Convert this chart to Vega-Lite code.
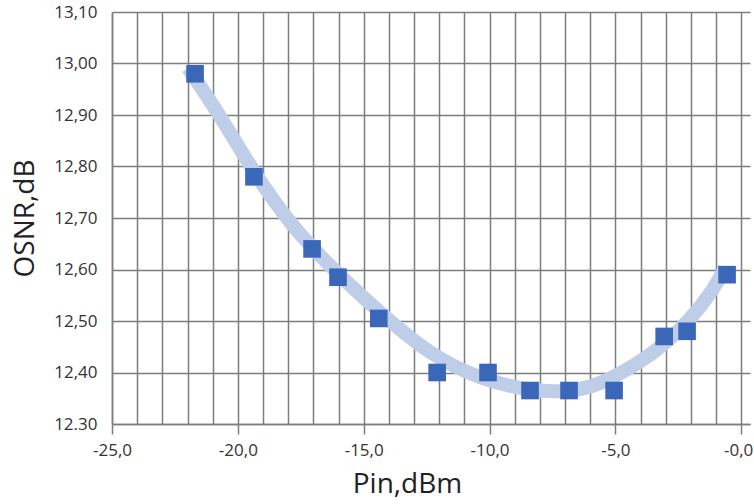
{
  "$schema": "https://vega.github.io/schema/vega-lite/v6.json",
  "width": 638,
  "height": 412,
  "autosize": "none",
  "padding": {"left": 112, "top": 12, "right": 4, "bottom": 80},
  "background": "white",
  "config": {"view": {"stroke": null}, "font": "Open Sans"},
  "datasets": {
    "curve": [
      {"pin": -21.98, "osnr": 12.991},
      {"pin": -20.71, "osnr": 12.900},
      {"pin": -19.40, "osnr": 12.790},
      {"pin": -17.93, "osnr": 12.690},
      {"pin": -17.01, "osnr": 12.640},
      {"pin": -15.74, "osnr": 12.578},
      {"pin": -14.35, "osnr": 12.516},
      {"pin": -12.36, "osnr": 12.434},
      {"pin": -10.37, "osnr": 12.387},
      {"pin": -8.39, "osnr": 12.364},
      {"pin": -6.80, "osnr": 12.362},
      {"pin": -5.60, "osnr": 12.376},
      {"pin": -4.01, "osnr": 12.420},
      {"pin": -3.10, "osnr": 12.453},
      {"pin": -2.03, "osnr": 12.502},
      {"pin": -1.11, "osnr": 12.560},
      {"pin": -0.64, "osnr": 12.603}
    ],
    "points": [
      {"pin": -21.7, "osnr": 12.98},
      {"pin": -19.36, "osnr": 12.78},
      {"pin": -17.05, "osnr": 12.64},
      {"pin": -16.02, "osnr": 12.585},
      {"pin": -14.4, "osnr": 12.505},
      {"pin": -12.08, "osnr": 12.40},
      {"pin": -10.06, "osnr": 12.40},
      {"pin": -8.39, "osnr": 12.365},
      {"pin": -6.84, "osnr": 12.365},
      {"pin": -5.05, "osnr": 12.365},
      {"pin": -3.06, "osnr": 12.47},
      {"pin": -2.15, "osnr": 12.48},
      {"pin": -0.56, "osnr": 12.59}
    ]
  },
  "encoding": {
    "x": {
      "field": "pin",
      "type": "quantitative",
      "scale": {"domain": [-25, 0.35], "nice": false, "zero": false},
      "axis": {
        "title": "Pin,dBm",
        "titleX": 295,
        "values": [-25,-24,-23,-22,-21,-20,-19,-18,-17,-16,-15,-14,-13,-12,-11,-10,-9,-8,-7,-6,-5,-4,-3,-2,-1,0],
        "grid": true,
        "gridColor": "#7e7e7e",
        "gridWidth": 1.5,
        "domainColor": "#7e7e7e",
        "domainWidth": 1.5,
        "tickColor": {"condition": {"test": "datum.value % 5 === 0", "value": "#7e7e7e"}, "value": "transparent"},
        "tickSize": 10,
        "tickWidth": 1.5,
        "labelExpr": "datum.value % 5 === 0 ? (datum.value === 0 ? '-0,0' : '-' + replace(format(abs(datum.value), '.1f'), '.', ',')) : ''",
        "labelOffset": {"condition": {"test": "datum.value === 0", "value": -3}, "value": 0},
        "labelFontSize": 17,
        "labelColor": "#333333",
        "labelPadding": 8,
        "labelOverlap": false,
        "labelFlush": false,
        "titleFontSize": 28,
        "titleFontWeight": "normal",
        "titleColor": "#222222",
        "titlePadding": 12
      }
    },
    "y": {
      "field": "osnr",
      "type": "quantitative",
      "scale": {"domain": [12.3, 13.1], "nice": false, "zero": false},
      "axis": {
        "title": "OSNR,dB",
        "values": [12.3, 12.4, 12.5, 12.6, 12.7, 12.8, 12.9, 13.0, 13.1],
        "grid": true,
        "gridColor": "#7e7e7e",
        "gridWidth": 1.5,
        "domainColor": "#7e7e7e",
        "domainWidth": 1.5,
        "ticks": false,
        "labelExpr": "datum.value < 12.35 ? '12.30' : replace(format(datum.value, '.2f'), '.', ',')",
        "labelFontSize": 17,
        "labelColor": "#333333",
        "labelPadding": 15,
        "labelOverlap": false,
        "titleFontSize": 28,
        "titleFontWeight": "normal",
        "titleColor": "#222222",
        "titlePadding": 14
      }
    }
  },
  "layer": [
    {
      "data": {"name": "curve"},
      "mark": {"type": "line", "interpolate": "basis", "color": "#bfcee8", "strokeWidth": 14, "strokeCap": "butt"}
    },
    {
      "data": {"name": "points"},
      "mark": {"type": "point", "shape": "square", "filled": true, "size": 310, "color": "#3a67b7", "opacity": 1}
    }
  ]
}
